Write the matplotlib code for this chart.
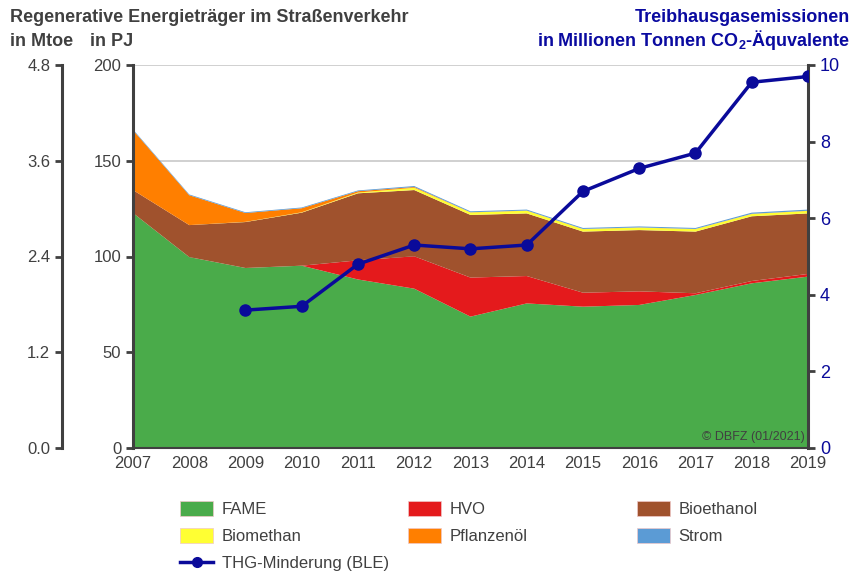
import numpy as np
import matplotlib
matplotlib.use("Agg")
import matplotlib.pyplot as plt
from matplotlib.patches import Patch
from matplotlib.lines import Line2D

years = list(range(2007, 2020))
# values in PJ (stacked layers)
fame = [122.7, 99.7, 94.0, 95.2, 88.0, 83.2, 68.6, 75.5, 73.8, 74.7, 79.9, 86.0, 89.5]
hvo = [0.0, 0.0, 0.0, 0.0, 10.0, 16.9, 20.4, 14.3, 7.3, 7.1, 0.9, 1.2, 1.4]
bioethanol = [12.0, 16.7, 24.0, 27.7, 35.0, 34.6, 32.7, 32.7, 31.9, 32.0, 32.2, 33.8, 31.6]
biomethan = [0.0, 0.0, 0.1, 0.2, 0.4, 1.2, 1.3, 1.4, 1.3, 1.3, 1.3, 1.2, 1.3]
pflanzenoel = [31.3, 15.6, 4.6, 2.1, 0.7, 0.4, 0.1, 0.1, 0.1, 0.1, 0.1, 0.1, 0.1]
strom = [0.4, 0.4, 0.4, 0.4, 0.4, 0.5, 0.5, 0.5, 0.5, 0.5, 0.5, 0.6, 0.6]

thg_years = list(range(2009, 2020))
thg = [3.6, 3.7, 4.8, 5.3, 5.2, 5.3, 6.7, 7.3, 7.7, 9.55, 9.7]

colors = {
    "FAME": "#4aab4a",
    "HVO": "#e41a1c",
    "Bioethanol": "#a0522d",
    "Biomethan": "#ffff33",
    "Pflanzenöl": "#ff7f00",
    "Strom": "#5b9bd5",
}
line_color = "#0a0a9a"
dark = "#404040"

plt.rcParams["font.family"] = ["Liberation Sans", "DejaVu Sans"]
plt.rcParams["mathtext.fontset"] = "custom"
plt.rcParams["mathtext.bf"] = "Liberation Sans:bold"
plt.rcParams["mathtext.rm"] = "Liberation Sans"

fig = plt.figure(figsize=(8.53, 5.72), dpi=100)
ax = fig.add_axes([133 / 853, 1 - 448 / 572, 675 / 853, 383 / 572])

layers = [fame, hvo, bioethanol, biomethan, pflanzenoel, strom]
names = ["FAME", "HVO", "Bioethanol", "Biomethan", "Pflanzenöl", "Strom"]
ax.stackplot(years, *layers, colors=[colors[n] for n in names], linewidth=0)

ax.set_xlim(2007, 2019)
ax.set_ylim(0, 200)
ax.set_yticks([0, 50, 100, 150, 200])
ax.set_xticks(years)
ax.yaxis.grid(True, color="#c8c8c8", linewidth=1.2, zorder=0)
ax.set_axisbelow(True)
ax.tick_params(axis="x", length=0, pad=6, labelsize=12, labelcolor=dark)
ax.tick_params(axis="y", length=5, width=2, color=dark, labelsize=12, labelcolor=dark, direction="out")
ax.spines["top"].set_visible(False)
ax.spines["left"].set_color(dark)
ax.spines["left"].set_linewidth(2.2)
ax.spines["bottom"].set_color(dark)
ax.spines["bottom"].set_linewidth(1.5)
ax.spines["right"].set_visible(False)

# Mtoe axis
ax_m = ax.twinx()
ax_m.set_ylim(0, 4.8)
ax_m.set_yticks([0, 1.2, 2.4, 3.6, 4.8])
ax_m.set_yticklabels(["0.0", "1.2", "2.4", "3.6", "4.8"])
ax_m.yaxis.set_ticks_position("left")
ax_m.spines["left"].set_position(("axes", -0.105))
ax_m.spines["left"].set_color(dark)
ax_m.spines["left"].set_linewidth(2.2)
for s in ["top", "right", "bottom"]:
    ax_m.spines[s].set_visible(False)
ax_m.tick_params(axis="y", length=5, width=2, color=dark, labelsize=12, labelcolor=dark)

# THG axis
ax_r = ax.twinx()
ax_r.plot(thg_years, thg, "-o", color=line_color, linewidth=2.5, markersize=8, zorder=5)
ax_r.set_ylim(0, 10)
ax_r.set_yticks([0, 2, 4, 6, 8, 10])
ax_r.spines["right"].set_color(dark)
ax_r.spines["right"].set_linewidth(2.2)
for s in ["top", "left", "bottom"]:
    ax_r.spines[s].set_visible(False)
ax_r.tick_params(axis="y", length=5, width=2, color=dark, labelsize=13, labelcolor=line_color)
ax_r.set_xlim(2007, 2019)

ax.text(0.995, 0.012, "© DBFZ (01/2021)", transform=ax.transAxes, ha="right", va="bottom",
        fontsize=9, color="#404040")

# titles
tsize = 13
fig.text(10 / 853, 1 - 17 / 572, "Regenerative Energieträger im Straßenverkehr", fontsize=tsize,
         fontweight="bold", color=dark, va="center")
fig.text(10 / 853, 1 - 41 / 572, "in Mtoe", fontsize=tsize, fontweight="bold", color=dark, va="center")
fig.text(90 / 853, 1 - 41 / 572, "in PJ", fontsize=tsize, fontweight="bold", color=dark, va="center")
fig.text(850 / 853, 1 - 17 / 572, "Treibhausgasemissionen", fontsize=tsize, fontweight="bold",
         color="#0a0aa0", ha="right", va="center")
fig.text(850 / 853, 1 - 40 / 572, r"in Millionen Tonnen CO$_\mathbf{2}$-Äquvalente", fontsize=tsize,
         fontweight="bold", color="#0a0aa0", ha="right", va="center")

# legend, one column at a time
def patch(n):
    return Patch(facecolor=colors[n], edgecolor="#f0c8c8", linewidth=0.5)

thg_handle = Line2D([0], [0], color=line_color, marker="o", linewidth=2.5, markersize=7)
columns = [
    (165, [patch("FAME"), patch("Biomethan"), thg_handle], ["FAME", "Biomethan", "THG-Minderung (BLE)"]),
    (393, [patch("HVO"), patch("Pflanzenöl")], ["HVO", "Pflanzenöl"]),
    (622, [patch("Bioethanol"), patch("Strom")], ["Bioethanol", "Strom"]),
]
for x0, hs, ls in columns:
    fig.legend(hs, ls, loc="upper left", bbox_to_anchor=(x0 / 853, 1 - 486 / 572),
               frameon=False, fontsize=12, handlelength=2.0, handleheight=1.0,
               labelspacing=0.65, handletextpad=0.5, labelcolor=dark)

fig.savefig("out.png", dpi=100)
